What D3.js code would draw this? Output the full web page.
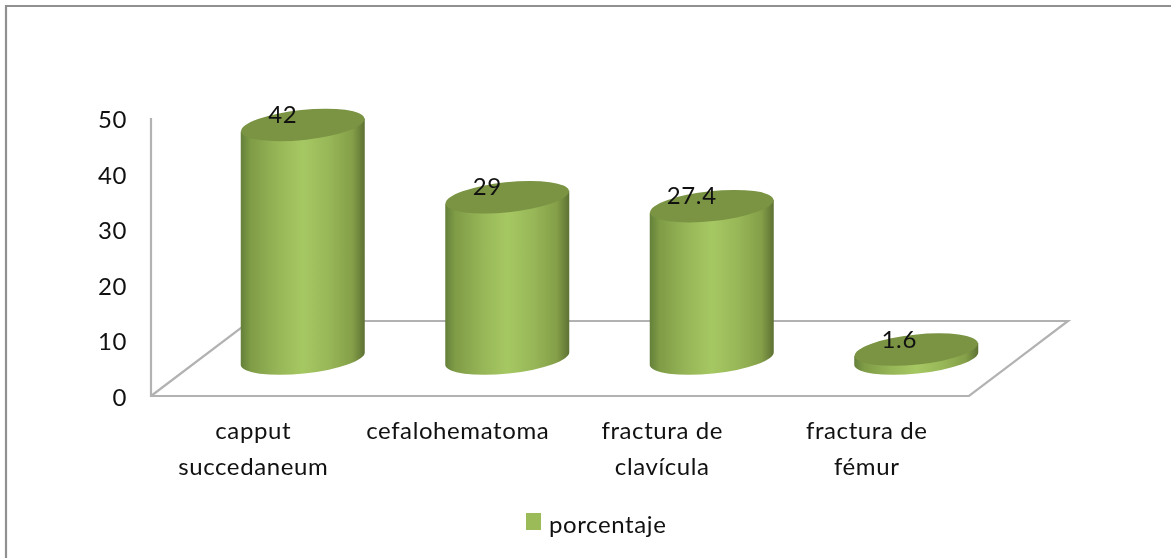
<!DOCTYPE html>
<html>
<head>
<meta charset="utf-8">
<script src="https://cdn.jsdelivr.net/npm/d3@7"></script>
<style>
  html, body { margin: 0; background: #fff; }
  text { font-family: Lato, "Open Sans", sans-serif; fill: #111; letter-spacing: 0.6px; }
</style>
</head>
<body>
<div id="chart"></div>
<script>
// Data
const categories = [["capput", "succedaneum"], ["cefalohematoma"], ["fractura de", "clavícula"], ["fractura de", "fémur"]];
const percentages = [42, 29, 27.4, 1.6];
const valueLabels = ["42", "29", "27.4", "1.6"];
const yTicks = [0, 10, 20, 30, 40, 50];
const seriesName = "porcentaje";

// Chart constants
const width = 1171, height = 558;
const floor = { x0: 151, x1: 969, y0: 396, y1: 118, dx: 99, dy: -75 };
const cyl = { rx: 62, ry: 15, tilt: -6 };
const fontSize = 24;

const svg = d3.select("#chart").append("svg")
  .attr("width", width)
  .attr("height", height)
  .style("display", "block");

const x = d3.scaleBand()
  .domain(d3.range(categories.length))
  .range([floor.x0, floor.x1]);
const y = d3.scaleLinear()
  .domain([0, 50])
  .range([floor.y0, floor.y1]);

// Gradient for the cylinder side
const defs = svg.append("defs");
const grad = defs.append("linearGradient").attr("id", "side");
[[0, "#64803a"], [0.08, "#7f9c46"], [0.3, "#97b657"], [0.5, "#a6c863"], [0.72, "#97b657"], [0.9, "#849f48"], [1, "#5d7133"]]
  .forEach(s => grad.append("stop").attr("offset", s[0]).attr("stop-color", s[1]));

// The reference is a slightly soft raster, so blur everything a little
defs.append("filter").attr("id", "soft")
  .attr("filterUnits", "userSpaceOnUse")
  .attr("x", 0).attr("y", 0).attr("width", width).attr("height", height)
  .attr("color-interpolation-filters", "sRGB")
  .append("feGaussianBlur").attr("stdDeviation", 0.45);

const root = svg.append("g").attr("filter", "url(#soft)");

// Outer frame
root.append("path")
  .attr("d", "M6,558V6H1171")
  .attr("fill", "none")
  .attr("stroke", "#909090")
  .attr("stroke-width", 2.2);

// Floor and wall lines
root.append("path")
  .attr("d", `M${floor.x0},${floor.y1}V${floor.y0}H${floor.x1}l${floor.dx},${floor.dy}H${floor.x0 + floor.dx}L${floor.x0},${floor.y0}`)
  .attr("fill", "none")
  .attr("stroke", "#b2b2b2")
  .attr("stroke-width", 2.2);

// Y axis labels
root.selectAll(".ytick")
  .data(yTicks)
  .join("text")
  .attr("class", "ytick")
  .attr("x", 127)
  .attr("y", d => y(d) + 10)
  .attr("text-anchor", "end")
  .attr("font-size", fontSize)
  .text(d => d);

// Cylinders
const cx = i => x(i) + x.bandwidth() / 2 + floor.dx / 2;
const baseY = floor.dy / 2;
const sideY = Math.sin(cyl.tilt * Math.PI / 180) * cyl.rx;

const bars = root.selectAll(".bar")
  .data(percentages)
  .join("g")
  .attr("class", "bar");

bars.append("path")
  .attr("fill", "url(#side)")
  .attr("d", (d, i) => {
    const top = y(d) + baseY, bottom = y(0) + baseY, c = cx(i);
    return `M${c - cyl.rx},${top - sideY}L${c + cyl.rx},${top + sideY}`
      + `L${c + cyl.rx},${bottom + sideY}`
      + `A${cyl.rx},${cyl.ry} ${cyl.tilt} 0 1 ${c - cyl.rx},${bottom - sideY}Z`;
  });

bars.append("ellipse")
  .attr("rx", cyl.rx)
  .attr("ry", cyl.ry)
  .attr("fill", "#7a9443")
  .attr("transform", (d, i) => `translate(${cx(i)},${y(d) + baseY}) rotate(${cyl.tilt})`);

// Value labels
root.selectAll(".value")
  .data(percentages)
  .join("text")
  .attr("class", "value")
  .attr("x", (d, i) => cx(i) - (i === 3 ? 17 : 20))
  .attr("y", d => y(d) + baseY - 2)
  .attr("text-anchor", "middle")
  .attr("font-size", fontSize)
  .text((d, i) => valueLabels[i]);

// Category labels
const catText = root.selectAll(".cat")
  .data(categories)
  .join("text")
  .attr("class", "cat")
  .attr("text-anchor", "middle")
  .attr("font-size", fontSize);

catText.selectAll("tspan")
  .data((d, i) => d.map((line, j) => ({ line, j, i })))
  .join("tspan")
  .attr("x", d => x(d.i) + x.bandwidth() / 2)
  .attr("y", d => 439 + d.j * 36)
  .text(d => d.line);

// Legend
root.append("rect")
  .attr("x", 526)
  .attr("y", 513)
  .attr("width", 15)
  .attr("height", 17)
  .attr("fill", "#9bbb59");
root.append("text")
  .attr("x", 549)
  .attr("y", 533)
  .attr("font-size", fontSize)
  .text(seriesName);
</script>
</body>
</html>
